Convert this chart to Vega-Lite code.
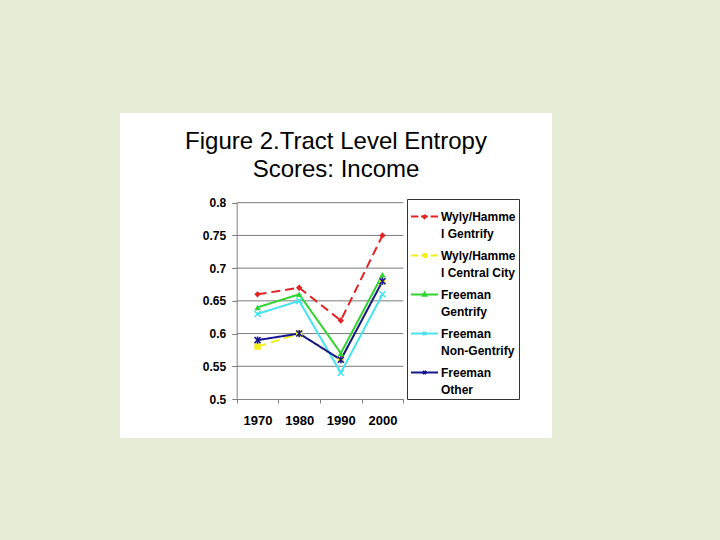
{
  "$schema": "https://vega.github.io/schema/vega-lite/v6.json",
  "width": 432,
  "height": 325,
  "autosize": {"type": "none"},
  "padding": {"left": 120, "top": 113, "right": 168, "bottom": 102},
  "background": "#e6ecd5",
  "config": {
    "view": {"fill": "white", "stroke": null},
    "font": "Liberation Sans"
  },
  "title": {
    "text": ["Figure 2.Tract Level Entropy", "Scores: Income"],
    "fontSize": 24,
    "fontWeight": "normal",
    "font": "Liberation Sans",
    "color": "black",
    "anchor": "middle",
    "frame": "group",
    "offset": 0,
    "baseline": "top",
    "lineHeight": 28,
    "dy": 69
  },
  "datasets": {
    "scores": [
      {"series": "Wyly/Hammel Gentrify", "year": 1970, "score": 0.66},
      {"series": "Wyly/Hammel Gentrify", "year": 1980, "score": 0.67},
      {"series": "Wyly/Hammel Gentrify", "year": 1990, "score": 0.62},
      {"series": "Wyly/Hammel Gentrify", "year": 2000, "score": 0.75},
      {"series": "Wyly/Hammel Central City", "year": 1970, "score": 0.58},
      {"series": "Wyly/Hammel Central City", "year": 1980, "score": 0.60},
      {"series": "Wyly/Hammel Central City", "year": 1990, "score": 0.56},
      {"series": "Wyly/Hammel Central City", "year": 2000, "score": 0.68},
      {"series": "Freeman Gentrify", "year": 1970, "score": 0.64},
      {"series": "Freeman Gentrify", "year": 1980, "score": 0.66},
      {"series": "Freeman Gentrify", "year": 1990, "score": 0.57},
      {"series": "Freeman Gentrify", "year": 2000, "score": 0.69},
      {"series": "Freeman Non-Gentrify", "year": 1970, "score": 0.63},
      {"series": "Freeman Non-Gentrify", "year": 1980, "score": 0.65},
      {"series": "Freeman Non-Gentrify", "year": 1990, "score": 0.54},
      {"series": "Freeman Non-Gentrify", "year": 2000, "score": 0.66},
      {"series": "Freeman Other", "year": 1970, "score": 0.59},
      {"series": "Freeman Other", "year": 1980, "score": 0.60},
      {"series": "Freeman Other", "year": 1990, "score": 0.56},
      {"series": "Freeman Other", "year": 2000, "score": 0.68}
    ],
    "grid": [
      {"v": 0.55}, {"v": 0.6}, {"v": 0.65}, {"v": 0.7}, {"v": 0.75}, {"v": 0.8}
    ]
  },
  "layer": [
    {
      "data": {"name": "grid"},
      "mark": {"type": "rule", "color": "#7a7a7a", "strokeWidth": 1},
      "encoding": {
        "x": {
          "datum": 1965,
          "type": "quantitative",
          "scale": {"domain": [1965, 2005], "range": [116.7, 283.3], "nice": false, "zero": false},
          "axis": {
            "title": null,
            "values": [1965, 1975, 1985, 1995, 2005],
            "labelExpr": "datum.value < 2005 ? toString(datum.value + 5) : ''",
            "labelOffset": 20.8,
            "offset": -39,
            "grid": false,
            "domainColor": "#808080",
            "tickColor": "#808080",
            "tickSize": 4,
            "labelFontWeight": "bold",
            "labelFontSize": 13,
            "labelColor": "black",
            "labelPadding": 11,
            "labelFlush": false,
            "labelOverlap": false
          }
        },
        "x2": {"datum": 2005},
        "y": {
          "field": "v",
          "type": "quantitative",
          "scale": {"domain": [0.5, 0.8], "range": [286, 89.7], "nice": false, "zero": false},
          "axis": {
            "title": null,
            "values": [0.5, 0.55, 0.6, 0.65, 0.7, 0.75, 0.8],
            "format": ".2~f",
            "offset": -116.7,
            "grid": false,
            "domainColor": "#808080",
            "tickColor": "#808080",
            "tickSize": 5,
            "labelFontWeight": "bold",
            "labelFontSize": 12,
            "labelColor": "black",
            "labelPadding": 6,
            "labelOverlap": false
          }
        }
      }
    },
    {
      "data": {"name": "scores"},
      "mark": {"type": "line", "strokeWidth": 2},
      "encoding": {
        "x": {"field": "year", "type": "quantitative", "axis": {"title": null}},
        "y": {"field": "score", "type": "quantitative", "axis": {"title": null}},
        "color": {
          "field": "series",
          "type": "nominal",
          "sort": null,
          "scale": {
            "domain": ["Wyly/Hammel Gentrify", "Wyly/Hammel Central City", "Freeman Gentrify", "Freeman Non-Gentrify", "Freeman Other"],
            "range": ["#e32222", "#f2ef1a", "#2fd42f", "#45e3f0", "#16168f"]
          },
          "legend": {
            "title": null,
            "orient": "none",
            "legendX": 287,
            "legendY": 86,
            "direction": "vertical",
            "strokeColor": "#333333",
            "fillColor": "white",
            "padding": 3,
            "symbolSize": 729,
            "symbolStrokeWidth": 2,
            "labelFontSize": 12,
            "labelFontWeight": "bold",
            "labelColor": "black",
            "labelOffset": 2,
            "labelLimit": 200,
            "rowPadding": 1,
            "labelBaseline": "alphabetic",
            "labelExpr": "datum.label == 'Wyly/Hammel Gentrify' ? ['Wyly/Hamme', 'l Gentrify'] : datum.label == 'Wyly/Hammel Central City' ? ['Wyly/Hamme', 'l Central City'] : datum.label == 'Freeman Gentrify' ? ['Freeman', 'Gentrify'] : datum.label == 'Freeman Non-Gentrify' ? ['Freeman', 'Non-Gentrify'] : ['Freeman', 'Other']",
            "encode": {
              "symbols": {
                "update": {
                  "shape": {"signal": "datum.value == 'Wyly/Hammel Gentrify' ? 'M-1,0L-0.45,0M-0.25,0L0.25,0M0.45,0L1,0M0,-0.13L0.13,0L0,0.13L-0.13,0Z' : datum.value == 'Wyly/Hammel Central City' ? 'M-1,0L-0.45,0M-0.25,0L0.25,0M0.45,0L1,0M-0.12,-0.12L0.12,-0.12L0.12,0.12L-0.12,0.12Z' : datum.value == 'Freeman Gentrify' ? 'M-1,0L1,0M0,-0.14L0.13,0.1L-0.13,0.1Z' : 'M-1,0L1,0M-0.12,-0.12L0.12,0.12M-0.12,0.12L0.12,-0.12'"},
                  "fill": {"scale": "color", "field": "value"},
                  "stroke": {"scale": "color", "field": "value"},
                  "strokeWidth": {"value": 2},
                  "strokeDash": {"value": [1, 0]},
                  "opacity": {"value": 1}
                }
              },
              "labels": {
                "update": {
                  "dy": {"value": 4},
                  "lineHeight": {"value": 17}
                }
              }
            }
          }
        },
        "strokeDash": {
          "field": "series",
          "type": "nominal",
          "sort": null,
          "scale": {
            "domain": ["Wyly/Hammel Gentrify", "Wyly/Hammel Central City", "Freeman Gentrify", "Freeman Non-Gentrify", "Freeman Other"],
            "range": [[9, 5], [9, 5], [1, 0], [1, 0], [1, 0]]
          },
          "legend": null
        }
      }
    },
    {
      "data": {"name": "scores"},
      "transform": [{"filter": "datum.series == 'Wyly/Hammel Gentrify'"}],
      "mark": {"type": "point", "shape": "diamond", "filled": true, "size": 40, "opacity": 1},
      "encoding": {
        "x": {"field": "year", "type": "quantitative", "axis": {"title": null}},
        "y": {"field": "score", "type": "quantitative", "axis": {"title": null}},
        "color": {"field": "series", "type": "nominal", "sort": null, "legend": null}
      }
    },
    {
      "data": {"name": "scores"},
      "transform": [{"filter": "datum.series == 'Wyly/Hammel Central City'"}],
      "mark": {"type": "point", "shape": "square", "filled": true, "size": 40, "opacity": 1},
      "encoding": {
        "x": {"field": "year", "type": "quantitative", "axis": {"title": null}},
        "y": {"field": "score", "type": "quantitative", "axis": {"title": null}},
        "color": {"field": "series", "type": "nominal", "sort": null, "legend": null}
      }
    },
    {
      "data": {"name": "scores"},
      "transform": [{"filter": "datum.series == 'Freeman Gentrify'"}],
      "mark": {"type": "point", "shape": "triangle-up", "filled": true, "size": 40, "opacity": 1},
      "encoding": {
        "x": {"field": "year", "type": "quantitative", "axis": {"title": null}},
        "y": {"field": "score", "type": "quantitative", "axis": {"title": null}},
        "color": {"field": "series", "type": "nominal", "sort": null, "legend": null}
      }
    },
    {
      "data": {"name": "scores"},
      "transform": [{"filter": "datum.series == 'Freeman Non-Gentrify'"}],
      "mark": {"type": "point", "shape": "M-1,-1L1,1M-1,1L1,-1", "filled": false, "size": 36, "strokeWidth": 1.5, "opacity": 1},
      "encoding": {
        "x": {"field": "year", "type": "quantitative", "axis": {"title": null}},
        "y": {"field": "score", "type": "quantitative", "axis": {"title": null}},
        "color": {"field": "series", "type": "nominal", "sort": null, "legend": null}
      }
    },
    {
      "data": {"name": "scores"},
      "transform": [{"filter": "datum.series == 'Freeman Other'"}],
      "mark": {"type": "point", "shape": "M-1,-1L1,1M-1,1L1,-1M0,-1.2L0,1.2", "filled": false, "size": 36, "strokeWidth": 1.5, "opacity": 1},
      "encoding": {
        "x": {"field": "year", "type": "quantitative", "axis": {"title": null}},
        "y": {"field": "score", "type": "quantitative", "axis": {"title": null}},
        "color": {"field": "series", "type": "nominal", "sort": null, "legend": null}
      }
    }
  ]
}
